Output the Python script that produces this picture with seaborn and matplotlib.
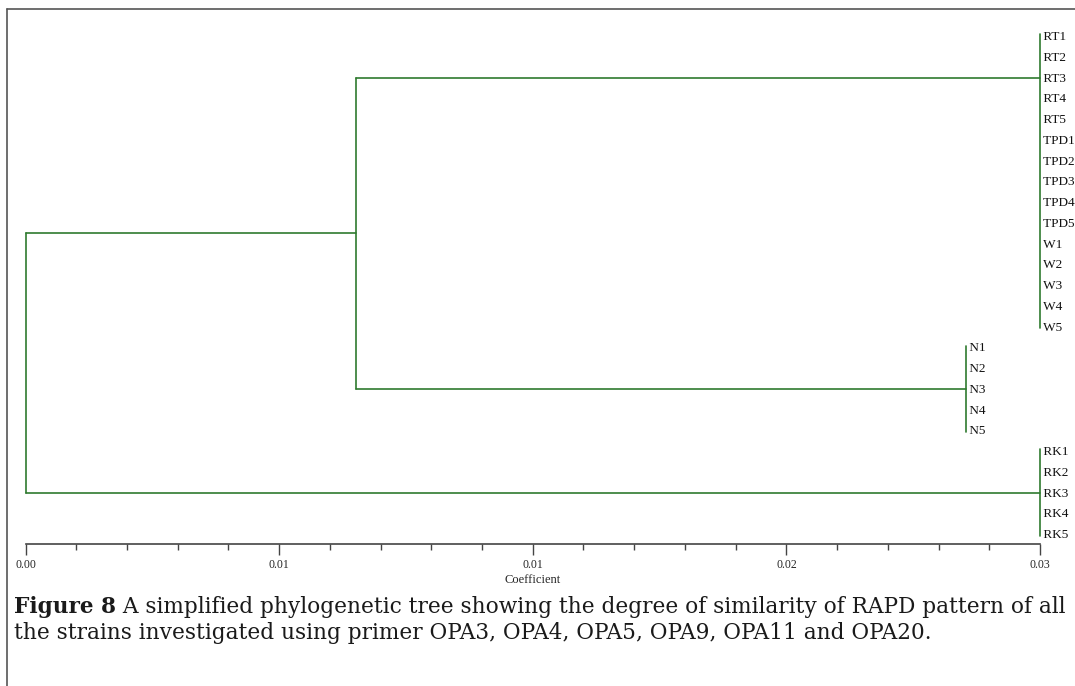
import numpy as np
import pandas as pd
import matplotlib
matplotlib.use("Agg")
import matplotlib.pyplot as plt
from matplotlib.lines import Line2D
from matplotlib.ticker import MultipleLocator, FormatStrFormatter
import seaborn as sns

# data
leaves = ["RT1", "RT2", "RT3", "RT4", "RT5",
          "TPD1", "TPD2", "TPD3", "TPD4", "TPD5",
          "W1", "W2", "W3", "W4", "W5",
          "N1", "N2", "N3", "N4", "N5",
          "RK1", "RK2", "RK3", "RK4", "RK5"]
cluster_names = ["RT/TPD/W", "N", "RK"]
cluster_first = ["RT1", "N1", "RK1"]
cluster_last = ["W5", "N5", "RK5"]
cluster_link = ["RT3", "N3", "RK3"]          # leaf where the branch meets the cluster bar
cluster_coef = [0.03, 0.0278, 0.03]
upper_node_coef = 0.00976                    # joins RT/TPD/W with N
root_coef = 0.0                              # joins the above with RK
major_step = 0.0075
caption_bold = "Figure 8"
caption_1 = " A simplified phylogenetic tree showing the degree of similarity of RAPD pattern of all"
caption_2 = "the strains investigated using primer OPA3, OPA4, OPA5, OPA9, OPA11 and OPA20."

green = "#2f7a2f"
W, H = 1075, 686

sns.set_style("white")
plt.rcParams["font.family"] = ["Liberation Serif", "DejaVu Serif"]
small_font = ["Liberation Serif"]

fig = plt.figure(figsize=(W / 100, H / 100), dpi=100)
ax_l, ax_r, ax_t, ax_b = 25.5, 1040, 20, 544
ax = fig.add_axes([ax_l / W, 1 - ax_b / H, (ax_r - ax_l) / W, (ax_b - ax_t) / H])

pos = {name: i for i, name in enumerate(leaves)}

# build segments
rows = []
def seg(sid, x0, y0, x1, y1):
    rows.append({"seg": sid, "x": x0, "y": y0})
    rows.append({"seg": sid, "x": x1, "y": y1})

link_y = []
for k, name in enumerate(cluster_names):
    c = cluster_coef[k]
    seg("bar_" + name, c, pos[cluster_first[k]] - 0.08, c, pos[cluster_last[k]] + 0.08)
    link_y.append(pos[cluster_link[k]])

# upper node joining cluster 0 and 1
seg("up_v", upper_node_coef, link_y[0], upper_node_coef, link_y[1])
seg("up_h0", upper_node_coef, link_y[0], cluster_coef[0], link_y[0])
seg("up_h1", upper_node_coef, link_y[1], cluster_coef[1], link_y[1])
upper_y = (link_y[0] + link_y[1]) / 2
# root joining upper node and cluster 2
seg("root_v", root_coef, upper_y, root_coef, link_y[2])
seg("root_h0", root_coef, upper_y, upper_node_coef, upper_y)
seg("root_h2", root_coef, link_y[2], cluster_coef[2], link_y[2])

df = pd.DataFrame(rows)
sns.lineplot(data=df, x="x", y="y", units="seg", estimator=None, sort=False,
             color=green, linewidth=1.2, ax=ax, legend=False)
for ln in ax.lines:
    ln.set_clip_on(False)

# leaf labels
for k in range(len(cluster_names)):
    i0, i1 = pos[cluster_first[k]], pos[cluster_last[k]]
    for i in range(i0, i1 + 1):
        ax.text(cluster_coef[k], i + 0.05, " " + leaves[i], fontsize=9.5, va="center",
                ha="left", clip_on=False, color="#111111", family=small_font)

span = 20.75
ax.set_xlim(0, 0.03)
ax.set_ylim(24 + (ax_b - 534) / span, -(36 - ax_t) / span)

for s in ["top", "right", "left"]:
    ax.spines[s].set_visible(False)
ax.spines["bottom"].set_color("#444444")
ax.spines["bottom"].set_linewidth(1.2)
ax.set_yticks([])
ax.xaxis.set_major_locator(MultipleLocator(major_step))
ax.xaxis.set_minor_locator(MultipleLocator(major_step / 5))
ax.xaxis.set_major_formatter(FormatStrFormatter("%.2f"))
ax.tick_params(axis="x", which="major", direction="out", length=8, width=1,
               color="#444444", labelsize=8.5, pad=3, bottom=True)
ax.tick_params(axis="x", which="minor", direction="out", length=4, width=1,
               color="#444444", bottom=True)
for lab in ax.get_xticklabels():
    lab.set_family(small_font)
ax.set_xlabel("Coefficient", fontsize=9, labelpad=2, family=small_font)
ax.set_ylabel("")

# frame of the figure panel
fig.add_artist(Line2D([7 / W, 1], [1 - 9 / H, 1 - 9 / H], color="#555555", lw=1.2))
fig.add_artist(Line2D([7 / W, 7 / W], [0, 1 - 9 / H], color="#555555", lw=1.2))

# caption (the source is a horizontally stretched Times, DejaVu Serif is closer in width)
cap_font = ["DejaVu Serif"]
cap_size = 15.6
x0 = 14
t1 = fig.text(x0 / W, 1 - 607 / H, caption_bold, fontsize=cap_size, weight="bold",
              va="center", ha="left", color="#1a1a1a", family=cap_font)
fig.canvas.draw()
bb = t1.get_window_extent()
fig.text(bb.x1 / W, 1 - 607 / H, caption_1, fontsize=cap_size, va="center", ha="left",
         color="#1a1a1a", family=cap_font)
fig.text(x0 / W, 1 - 633 / H, caption_2, fontsize=cap_size, va="center", ha="left",
         color="#1a1a1a", family=cap_font)

fig.savefig("out.png", dpi=100)
